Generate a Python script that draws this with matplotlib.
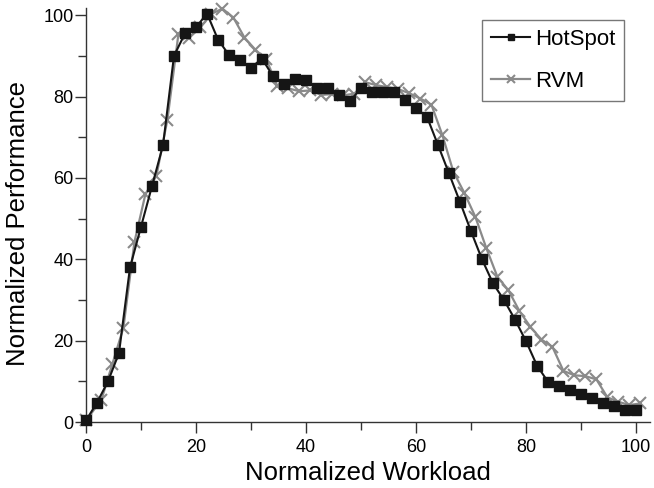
import matplotlib.pyplot as plt

plt.rcParams['font.family'] = ['Liberation Sans', 'DejaVu Sans']

# HotSpot samples
hot_x = [0, 2, 4, 6, 8, 10, 12, 14, 16, 18, 20, 22, 24, 26, 28, 30, 32, 34, 36, 38,
         40, 42, 44, 46, 48, 50, 52, 54, 56, 58, 60, 62, 64, 66, 68, 70, 72, 74, 76, 78,
         80, 82, 84, 86, 88, 90, 92, 94, 96, 98, 100]
hot_y = [0.4, 4.8, 10, 17, 38, 48, 58, 68, 90, 95.5, 97, 100.4, 94, 90.2, 88.9, 87.1, 89.3, 85, 83.2, 84.2,
         84, 82.1, 82, 80.3, 78.9, 82, 81.2, 81.2, 81.2, 79.1, 77.1, 75, 68.1, 61.1, 54.1, 46.9, 40, 34.1, 30, 25.2,
         19.9, 13.9, 9.9, 8.8, 7.9, 6.9, 6, 4.8, 3.9, 2.9, 3.1]

# RVM samples
rvm_x = [0, 2.8, 4.8, 6.8, 8.8, 10.8, 12.8, 14.8, 16.8, 18.8, 20.8, 22.8, 24.8, 26.8, 28.8, 30.8, 32.8,
         34.8, 36.8, 38.8, 40.8, 42.8, 44.8, 46.8, 48.8, 50.8, 52.8, 54.8, 56.8, 58.8, 60.8, 62.8, 64.8,
         66.8, 68.8, 70.8, 72.8, 74.8, 76.8, 78.8, 80.8, 82.8, 84.8, 86.8, 88.8, 90.8, 92.8, 94.8, 96.8,
         98.8, 100.8]
rvm_y = [0.4, 5.5, 14.3, 23.2, 44.2, 56, 60.5, 74.3, 95.3, 94.5, 97, 100.3, 101.6, 99.4, 94.5, 91.5, 89.1,
         82.5, 82, 81.3, 81.5, 80.4, 80.6, 80.3, 80.7, 83.5, 82.8, 82.3, 81.8, 80.8, 79.5, 78, 70.5,
         61.5, 56.3, 50.4, 42.7, 35.7, 32.4, 27.3, 23.4, 20.3, 18.5, 12.6, 11.5, 11.3, 10.5, 6.1, 5.0,
         4.2, 4.6]

fig = plt.figure(figsize=(6.54, 4.88), dpi=100)
ax = fig.add_axes([0.1315, 0.135, 0.862, 0.849])

ax.plot(rvm_x, rvm_y, color='#8a8a8a', lw=1.6, marker='x', ms=8, mew=1.5,
        label='RVM', clip_on=False, zorder=2)
ax.plot(hot_x, hot_y, color='#151515', lw=1.5, marker='s', ms=6.5,
        label='HotSpot', clip_on=False, zorder=3)

ax.set_xlim(0, 102.5)
ax.set_ylim(0, 101.8)
ax.set_xticks([0, 20, 40, 60, 80, 100])
ax.set_xticks([10, 30, 50, 70, 90], minor=True)
ax.set_yticks([0, 20, 40, 60, 80, 100])
ax.set_yticks([10, 30, 50, 70, 90], minor=True)
ax.tick_params(which='major', direction='out', length=8, width=1, labelsize=13, color='#333333')
ax.tick_params(which='minor', direction='out', length=6, width=1, color='#333333')
ax.tick_params(axis='y', pad=1)
ax.tick_params(axis='x', pad=4)

for s in ['top', 'right']:
    ax.spines[s].set_visible(False)
for s in ['left', 'bottom']:
    ax.spines[s].set_color('#333333')
    ax.spines[s].set_linewidth(1)

ax.set_xlabel('Normalized Workload', fontsize=18.5, labelpad=4)
ax.set_ylabel('Normalized Performance', fontsize=18.5)
ax.yaxis.set_label_coords(-0.1, 0.48)

handles, labels = ax.get_legend_handles_labels()
leg = ax.legend(handles[::-1], labels[::-1], loc='upper right',
                bbox_to_anchor=(624 / 654, 1 - 20 / 488), bbox_transform=fig.transFigure,
                fontsize=16, handlelength=1.76, handletextpad=0.2, borderpad=0.4,
                labelspacing=0.95, fancybox=False, markerscale=0.65, borderaxespad=0)
leg.get_frame().set_edgecolor('#555555')
leg.get_frame().set_linewidth(1)

fig.savefig('out.png', dpi=100)
